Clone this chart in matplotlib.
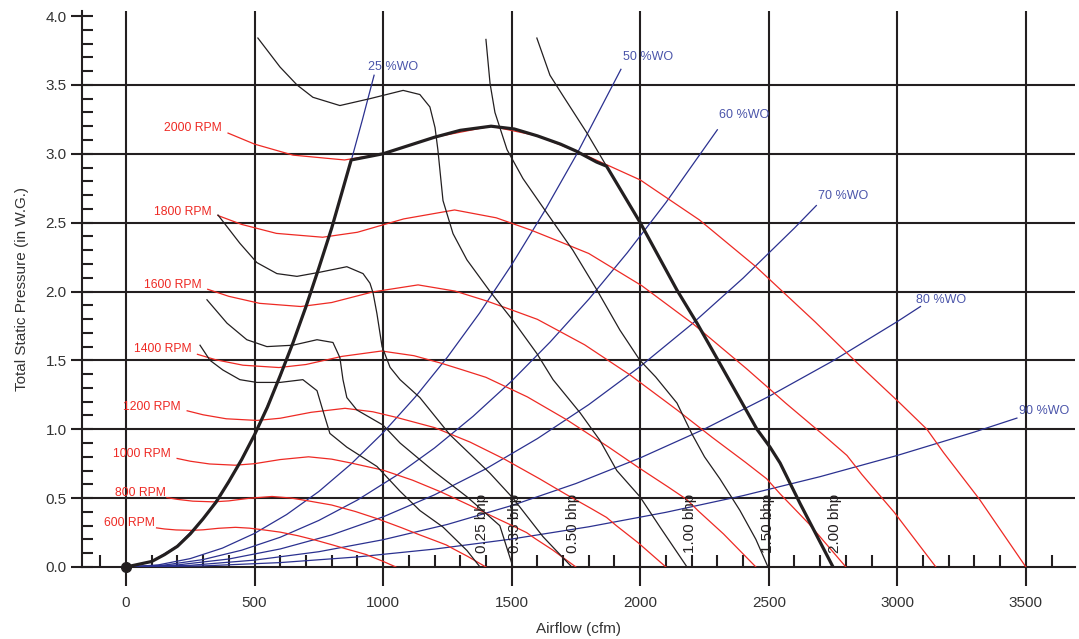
import matplotlib
matplotlib.use("Agg")
import matplotlib.pyplot as plt
from matplotlib.ticker import MultipleLocator

plt.rcParams["font.family"] = ["Liberation Sans", "DejaVu Sans"]

# ---- data (cfm, in W.G.) ----
rpm_names = ["600 RPM", "800 RPM", "1000 RPM", "1200 RPM",
             "1400 RPM", "1600 RPM", "1800 RPM", "2000 RPM"]
rpm_x = [
    [119, 150, 195, 255, 300, 360, 426, 480, 525, 561, 600, 669, 735, 804, 855, 903, 935, 954, 996, 1050],
    [159, 200, 260, 340, 400, 480, 568, 640, 700, 748, 800, 892, 980, 1072, 1140, 1204, 1246, 1272, 1328, 1400],
    [199, 250, 325, 425, 500, 600, 710, 800, 875, 935, 1000, 1115, 1225, 1340, 1425, 1505, 1558, 1590, 1660, 1750],
    [238, 300, 390, 510, 600, 720, 852, 960, 1050, 1122, 1200, 1338, 1470, 1608, 1710, 1806, 1869, 1908, 1992, 2100],
    [278, 350, 455, 595, 700, 840, 994, 1120, 1225, 1309, 1400, 1561, 1715, 1876, 1995, 2107, 2181, 2226, 2324, 2450],
    [318, 400, 520, 680, 800, 960, 1136, 1280, 1400, 1496, 1600, 1784, 1960, 2144, 2280, 2408, 2492, 2544, 2656, 2800],
    [357, 450, 585, 765, 900, 1080, 1278, 1440, 1575, 1683, 1800, 2007, 2205, 2412, 2565, 2709, 2804, 2862, 2988, 3150],
    [397, 500, 650, 850, 1000, 1200, 1420, 1600, 1750, 1870, 2000, 2230, 2450, 2680, 2850, 3010, 3115, 3180, 3320, 3500],
]
rpm_y = [
    [0.284, 0.276, 0.269, 0.266, 0.270, 0.281, 0.288, 0.282, 0.272, 0.263, 0.253, 0.227, 0.196, 0.160, 0.132, 0.107, 0.090, 0.075, 0.044, 0.0],
    [0.504, 0.491, 0.478, 0.473, 0.480, 0.499, 0.512, 0.501, 0.483, 0.467, 0.450, 0.403, 0.349, 0.285, 0.235, 0.190, 0.160, 0.133, 0.078, 0.0],
    [0.788, 0.768, 0.748, 0.739, 0.750, 0.780, 0.800, 0.783, 0.755, 0.730, 0.703, 0.630, 0.545, 0.445, 0.368, 0.298, 0.250, 0.208, 0.123, 0.0],
    [1.134, 1.105, 1.076, 1.064, 1.080, 1.123, 1.152, 1.127, 1.087, 1.051, 1.012, 0.907, 0.785, 0.641, 0.529, 0.428, 0.360, 0.299, 0.176, 0.0],
    [1.544, 1.504, 1.465, 1.448, 1.470, 1.529, 1.568, 1.534, 1.480, 1.431, 1.377, 1.235, 1.068, 0.872, 0.720, 0.583, 0.490, 0.407, 0.240, 0.0],
    [2.016, 1.965, 1.914, 1.891, 1.920, 1.997, 2.048, 2.003, 1.933, 1.869, 1.798, 1.613, 1.395, 1.139, 0.941, 0.762, 0.640, 0.531, 0.314, 0.0],
    [2.552, 2.487, 2.422, 2.394, 2.430, 2.527, 2.592, 2.535, 2.446, 2.365, 2.276, 2.041, 1.766, 1.442, 1.191, 0.964, 0.810, 0.672, 0.397, 0.0],
    [3.150, 3.070, 2.990, 2.955, 3.000, 3.120, 3.200, 3.130, 3.020, 2.920, 2.810, 2.520, 2.180, 1.780, 1.470, 1.190, 1.000, 0.830, 0.490, 0.0],
]

wo_names = ["25 %WO", "50 %WO", "60 %WO", "70 %WO", "80 %WO", "90 %WO"]
wo_x = [
    [0, 100, 200, 300, 400, 500, 600, 700, 800, 876, 920, 965],
    [0, 125, 250, 375, 500, 625, 750, 875, 1000, 1125, 1250, 1375, 1500, 1625, 1750, 1925],
    [0, 150, 300, 450, 600, 750, 900, 1050, 1200, 1350, 1500, 1650, 1800, 1950, 2100, 2300],
    [0, 200, 400, 600, 800, 1000, 1200, 1400, 1600, 1800, 2000, 2200, 2400, 2600, 2685],
    [0, 250, 500, 750, 1000, 1250, 1500, 1750, 2000, 2250, 2500, 2750, 3000, 3090],
    [0, 300, 600, 900, 1200, 1500, 1800, 2100, 2400, 2700, 3000, 3300, 3465],
]
wo_y = [
    [0, 0.038, 0.154, 0.346, 0.614, 0.96, 1.38, 1.88, 2.46, 2.95, 3.25, 3.57],
    [0, 0.015, 0.061, 0.137, 0.244, 0.381, 0.548, 0.747, 0.975, 1.234, 1.523, 1.843, 2.194, 2.575, 2.986, 3.613],
    [0, 0.014, 0.054, 0.122, 0.216, 0.338, 0.486, 0.662, 0.864, 1.094, 1.35, 1.634, 1.944, 2.282, 2.646, 3.174],
    [0, 0.015, 0.058, 0.131, 0.233, 0.364, 0.524, 0.713, 0.932, 1.179, 1.456, 1.762, 2.097, 2.461, 2.624],
    [0, 0.012, 0.050, 0.111, 0.198, 0.309, 0.446, 0.606, 0.792, 1.002, 1.238, 1.497, 1.782, 1.891],
    [0, 0.008, 0.032, 0.073, 0.130, 0.203, 0.292, 0.397, 0.518, 0.656, 0.810, 0.980, 1.081],
]

bhp_names = ["0.25 bhp", "0.33 bhp", "0.50 bhp", "1.00 bhp", "1.50 bhp", "2.00 bhp"]
bhp_x = [
    [288, 327, 377, 443, 509, 599, 688, 743, 762, 793, 859, 976, 1066, 1143, 1233, 1326, 1377],
    [315, 393, 470, 548, 649, 743, 805, 832, 844, 859, 898, 1000, 1066, 1194, 1326, 1454, 1505],
    [358, 443, 509, 587, 665, 754, 859, 922, 949, 961, 976, 996, 1027, 1066, 1143, 1260, 1416, 1505, 1622, 1734],
    [513, 599, 665, 727, 832, 949, 1078, 1143, 1182, 1202, 1213, 1233, 1272, 1326, 1416, 1505, 1598, 1661,
     1766, 1843, 1909, 1999, 2077, 2182],
    [1400, 1416, 1435, 1482, 1544, 1637, 1738, 1832, 1921, 1999, 2060, 2143, 2200, 2250, 2310, 2388, 2450, 2497],
    [1598, 1649, 1700, 1793, 1869, 2000, 2143, 2221, 2303, 2454, 2505, 2544, 2622, 2750],
]
bhp_y = [
    [1.61, 1.50, 1.43, 1.36, 1.34, 1.34, 1.36, 1.28, 1.16, 0.97, 0.87, 0.73, 0.55, 0.41, 0.29, 0.12, 0.0],
    [1.94, 1.77, 1.65, 1.60, 1.61, 1.65, 1.63, 1.52, 1.36, 1.23, 1.14, 1.03, 0.90, 0.70, 0.51, 0.30, 0.0],
    [2.555, 2.35, 2.21, 2.13, 2.11, 2.14, 2.18, 2.13, 2.06, 1.99, 1.84, 1.60, 1.45, 1.36, 1.23, 0.96, 0.68, 0.50, 0.22, 0.0],
    [3.84, 3.63, 3.50, 3.41, 3.35, 3.40, 3.46, 3.43, 3.34, 3.19, 3.03, 2.66, 2.42, 2.23, 2.00, 1.79, 1.55, 1.36,
     1.12, 0.92, 0.70, 0.51, 0.29, 0.0],
    [3.83, 3.51, 3.30, 3.03, 2.82, 2.57, 2.30, 2.01, 1.72, 1.50, 1.38, 1.19, 0.97, 0.80, 0.64, 0.41, 0.20, 0.0],
    [3.84, 3.57, 3.42, 3.15, 2.91, 2.50, 2.01, 1.77, 1.50, 1.00, 0.87, 0.755, 0.46, 0.0],
]

# operating limit (heavy line)
limit_x = [0, 100, 150, 200, 250, 300, 350, 400, 450, 500, 550, 600, 650, 700, 750, 800, 840, 876,
           1000, 1100, 1200, 1300, 1420, 1510, 1600, 1690, 1750, 1800, 1830, 1869,
           2000, 2143, 2221, 2303, 2454, 2505, 2544, 2622, 2750]
limit_y = [0, 0.04, 0.09, 0.15, 0.24, 0.35, 0.47, 0.62, 0.78, 0.96, 1.16, 1.39, 1.63, 1.89, 2.17, 2.46, 2.72, 2.955,
           3.00, 3.06, 3.12, 3.17, 3.20, 3.18, 3.13, 3.07, 3.02, 2.97, 2.94, 2.91,
           2.50, 2.01, 1.77, 1.50, 1.00, 0.87, 0.755, 0.46, 0.0]

x_major = [0, 500, 1000, 1500, 2000, 2500, 3000, 3500]
y_major = [0.0, 0.5, 1.0, 1.5, 2.0, 2.5, 3.0, 3.5, 4.0]

# ---- label anchors (layout) ----
rpm_label_pos = [(113, 0.319), (156, 0.537), (175, 0.82), (214, 1.16),
                 (257, 1.58), (296, 2.05), (335, 2.58), (373, 3.187)]
wo_label_pos = [(941, 3.63), (1933, 3.70), (2306, 3.28), (2691, 2.69), (3073, 1.94), (3473, 1.13)]
bhp_label_x = [1383, 1513, 1739, 2193, 2497, 2757]

RED = "#ee2a24"
BLUE = "#2b3190"
BLUE_TXT = "#4b55aa"
INK = "#231f20"

fig = plt.figure(figsize=(10.79, 6.39), dpi=100)
ax = fig.add_axes([82 / 1079, 72 / 639, 993 / 1079, 556.5 / 639])
ax.set_xlim(-171, 3691)
ax.set_ylim(0, 4.04)

# grid: vertical lines run past the axis as long ticks, horizontal stop at 3.5
ax.set_xticks(x_major)
ax.xaxis.set_minor_locator(MultipleLocator(100))
ax.grid(axis="x", color=INK, linewidth=1.5, zorder=1)
ax.hlines(y_major[1:-1], -171, 3691, color=INK, linewidth=1.5, zorder=1)

ax.set_yticks(y_major)
ax.yaxis.set_minor_locator(MultipleLocator(0.1))

ax.tick_params(axis="x", which="major", direction="out", length=13.7, width=1.5,
               color=INK, labelsize=11, pad=7, labelcolor="#333333")
ax.tick_params(axis="x", which="minor", direction="in", length=8.6, width=1.5, color=INK)
ax.tick_params(axis="y", which="major", direction="inout", length=16, width=1.5,
               color=INK, labelsize=11, pad=3, labelcolor="#333333")
ax.tick_params(axis="y", which="minor", direction="in", length=8, width=1.5, color=INK)
ax.set_yticklabels([f"{v:.1f}" for v in y_major])

for side in ("top", "right"):
    ax.spines[side].set_visible(False)
for side in ("left", "bottom"):
    ax.spines[side].set_color(INK)
    ax.spines[side].set_linewidth(1.5)

# system (%WO) curves
for xs, ys in zip(wo_x, wo_y):
    ax.plot(xs, ys, color=BLUE, linewidth=0.9, zorder=3)
for name, (lx, ly) in zip(wo_names, wo_label_pos):
    ax.text(lx, ly, name, color=BLUE_TXT, fontsize=9, ha="left", va="center", zorder=6)

# fan curves by speed
for xs, ys in zip(rpm_x, rpm_y):
    ax.plot(xs, ys, color=RED, linewidth=0.9, zorder=4)
for name, (lx, ly) in zip(rpm_names, rpm_label_pos):
    ax.text(lx, ly, name, color=RED, fontsize=8.7, ha="right", va="center", zorder=6)

# brake horsepower curves
for xs, ys in zip(bhp_x, bhp_y):
    ax.plot(xs, ys, color=INK, linewidth=0.9, zorder=4)
for name, lx in zip(bhp_names, bhp_label_x):
    ax.text(lx, 0.1, name, color=INK, fontsize=11, rotation=90,
            ha="center", va="bottom", zorder=6)

# operating limit
ax.plot(limit_x, limit_y, color=INK, linewidth=2.3, zorder=5, solid_capstyle="round")
ax.plot([0], [0], "o", color=INK, markersize=7, zorder=6, clip_on=False)

ax.set_xlabel("Airflow (cfm)", fontsize=11, color="#333333", labelpad=9)
ax.set_ylabel("Total Static Pressure (in W.G.)", fontsize=11, color="#333333", labelpad=12)

fig.savefig("out.png", dpi=100)
